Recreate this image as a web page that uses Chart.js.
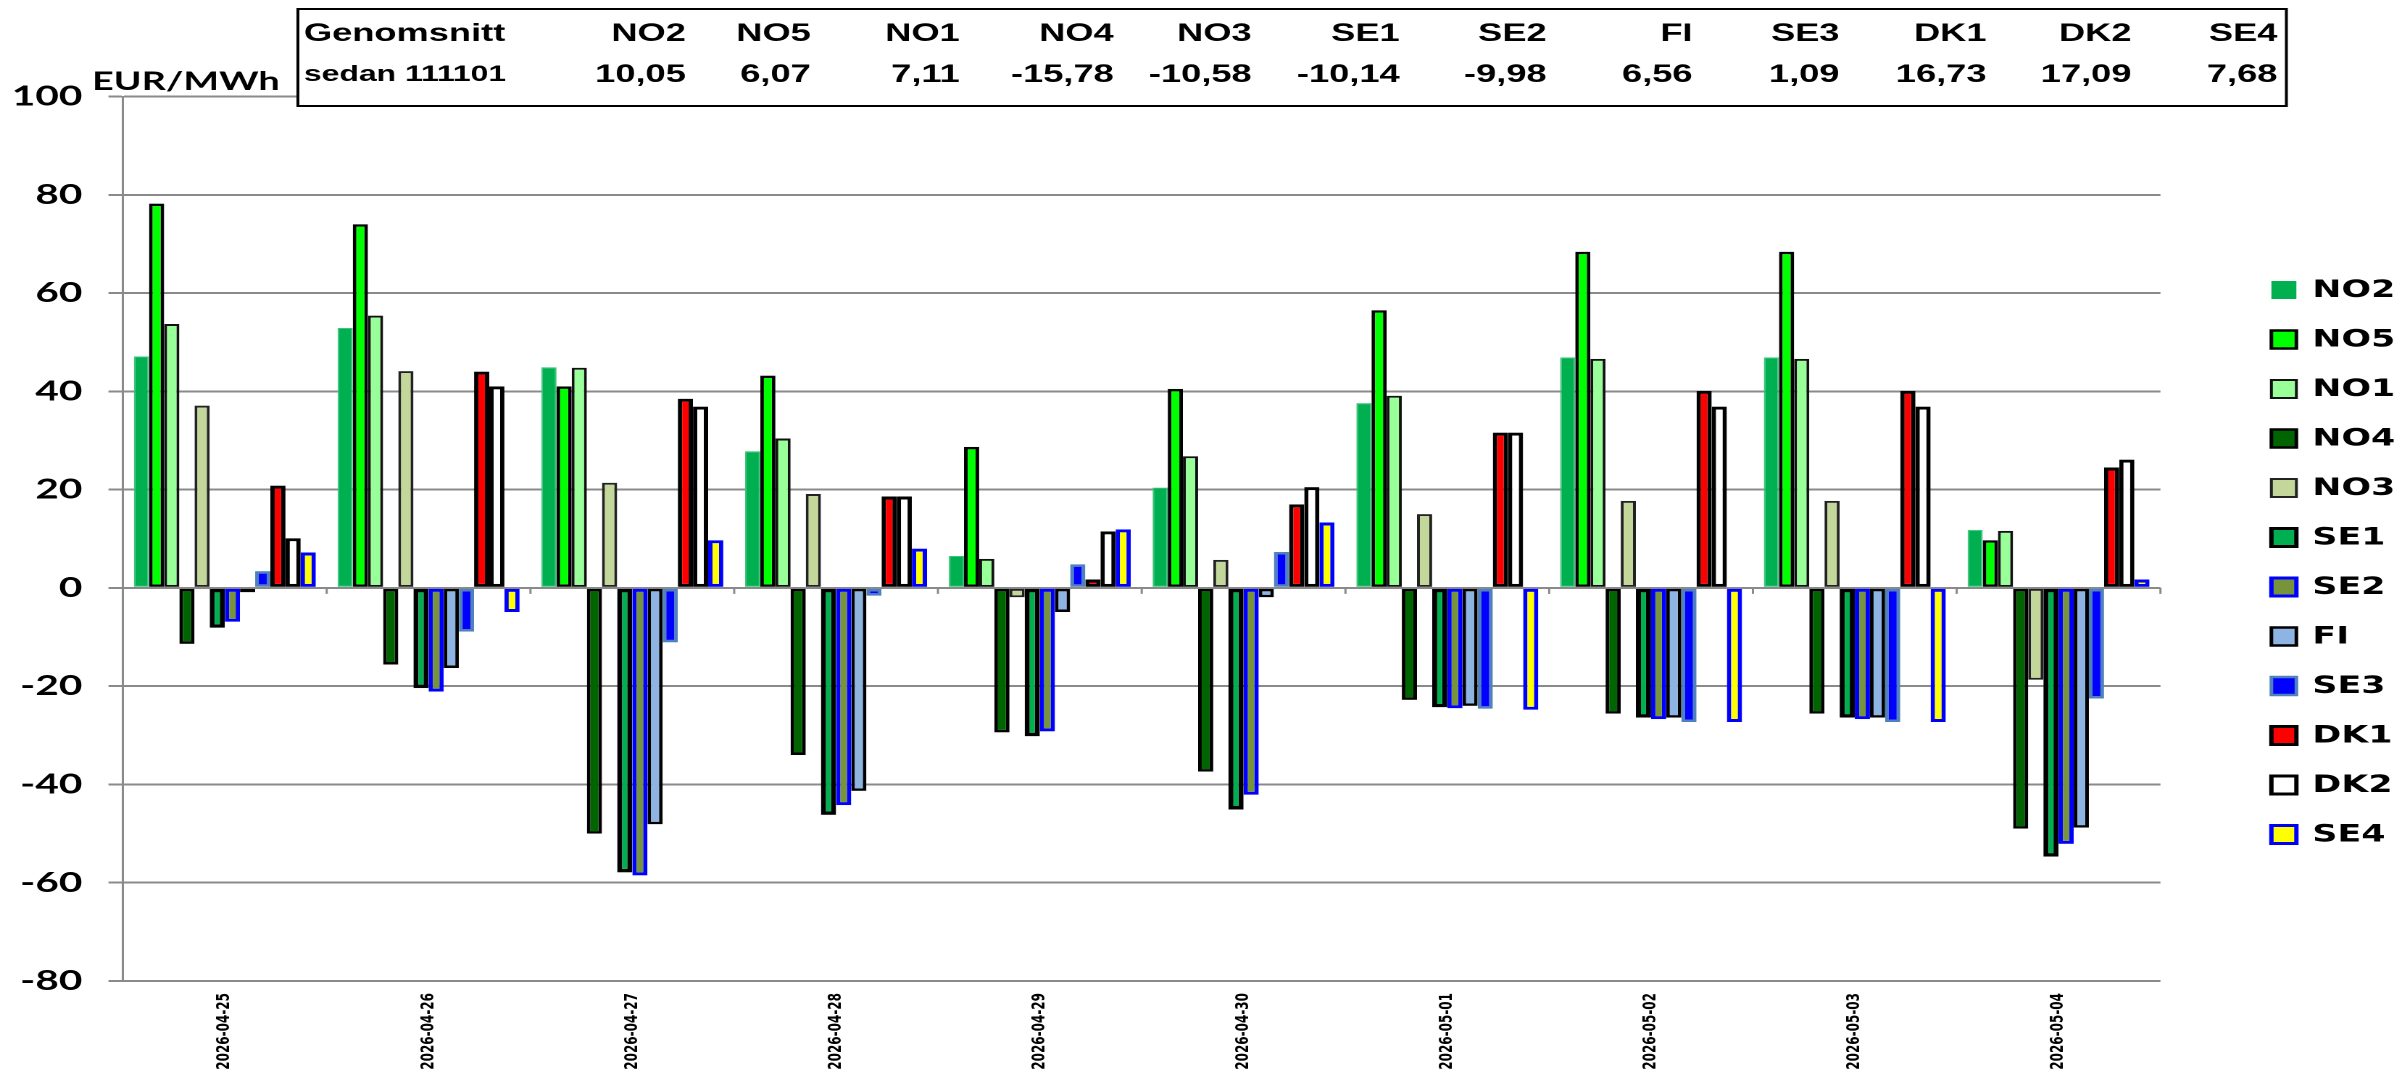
<!DOCTYPE html>
<html>
<head>
<meta charset="utf-8">
<script src="https://cdn.jsdelivr.net/npm/chart.js@4.4.1/dist/chart.umd.min.js"></script>
<style>
  html, body { margin: 0; padding: 0; background: #fff; }
</style>
</head>
<body>
<canvas id="priceChart"></canvas>
<script>
// Kategorier (datum)
const dates = ['2026-04-25', '2026-04-26', '2026-04-27', '2026-04-28', '2026-04-29',
               '2026-04-30', '2026-05-01', '2026-05-02', '2026-05-03', '2026-05-04'];

// Elområden
const zones = ['NO2', 'NO5', 'NO1', 'NO4', 'NO3', 'SE1', 'SE2', 'FI', 'SE3', 'DK1', 'DK2', 'SE4'];

// Värden EUR/MWh per område
const no2 = [47.1, 52.9, 44.9, 27.8, 6.5, 20.4, 37.6, 46.9, 46.9, 11.8];
const no5 = [78.2, 74.0, 41.0, 43.2, 28.7, 40.5, 56.5, 68.4, 68.4, 9.7];
const no1 = [53.7, 55.4, 44.8, 30.4, 5.9, 26.8, 39.1, 46.6, 46.6, 11.6];
const no4 = [-11.4, -15.6, -50.0, -34.0, -29.4, -37.4, -22.8, -25.6, -25.6, -49.0];
const no3 = [37.1, 44.1, 21.4, 19.1, -1.9, 5.7, 15.0, 17.7, 17.7, -18.7];
const se1 = [-8.1, -20.4, -57.9, -46.2, -30.2, -45.1, -24.3, -26.4, -26.4, -54.7];
const se2 = [-6.9, -21.1, -58.5, -44.2, -29.2, -42.1, -24.5, -26.7, -26.7, -52.1];
const fi  = [-0.9, -16.3, -48.1, -41.3, -4.9, -1.9, -24.0, -26.4, -26.4, -48.8];
const se3 = [3.4, -8.9, -11.1, -1.6, 4.8, 7.3, -24.6, -27.3, -27.3, -22.5];
const dk1 = [20.8, 44.0, 38.5, 18.6, 1.7, 17.0, 31.6, 40.1, 40.1, 24.5];
const dk2 = [10.1, 41.0, 36.9, 18.6, 11.5, 20.5, 31.6, 36.9, 36.9, 26.1];
const se4 = [7.2, -4.9, 9.7, 8.0, 11.9, 13.3, -24.8, -27.3, -27.3, 1.7];

// Genomsnitt sedan 111101
const avgTitle = ['Genomsnitt', 'sedan 111101'];
const avgValues = ['10,05', '6,07', '7,11', '-15,78', '-10,58', '-10,14', '-9,98', '6,56', '1,09', '16,73', '17,09', '7,68'];

// Y-axel
const yMin = -80, yMax = 100, yStep = 20;
const unitLabel = 'EUR/MWh';

const seriesValues = [no2, no5, no1, no4, no3, se1, se2, fi, se3, dk1, dk2, se4];

// Utseende
const fills   = ['#00b050', '#00ff00', '#99ff99', '#006400', '#c4d79b', '#00b050',
                 '#77933c', '#8db4e2', '#0000ff', '#ff0000', '#ffffff', '#ffff00'];
const borders = ['#3cc47c', '#000000', '#111111', '#000000', '#222222', '#000000',
                 '#0000ff', '#000000', '#4f81bd', '#000000', '#000000', '#0000ff'];
const borderWidths = [1, 2.5, 2, 2.5, 2, 3.5, 3, 2.5, 2.5, 3, 3, 3];

// Layout (bilden är utdragen i bredd)
const STRETCH = 1.45;
const W = Math.round(2402 / STRETCH), H = 1075;
const PLOT_LEFT = 123 / STRETCH, PLOT_RIGHT = 2161 / STRETCH;
const PLOT_TOP = 96.5, PLOT_BOTTOM = 981;

const canvas = document.getElementById('priceChart');
canvas.width = W;
canvas.height = H;
canvas.style.width = '2402px';
canvas.style.height = '1075px';

const overlay = {
    id: 'overlay',
    beforeDatasetsDraw(chart) {
        // små streck på nollinjen mellan kategorierna
        const xs = chart.scales.x, ys = chart.scales.y;
        const ctx = chart.ctx;
        const y0 = ys.getPixelForValue(0);
        const step = xs.width / dates.length;
        ctx.save();
        ctx.strokeStyle = '#8a8a8a';
        ctx.lineWidth = 1.5;
        for (let i = 1; i <= dates.length; i++) {
            const x = xs.left + i * step;
            ctx.beginPath();
            ctx.moveTo(x, y0);
            ctx.lineTo(x, y0 + 6);
            ctx.stroke();
        }
        ctx.restore();
    },
    afterDraw(chart) {
        const ctx = chart.ctx;
        ctx.save();

        // Enhet
        ctx.fillStyle = '#000';
        ctx.font = 'bold 26px Lato';
        ctx.textAlign = 'left';
        ctx.textBaseline = 'alphabetic';
        ctx.fillText(unitLabel, 92 / STRETCH, 90);

        // Tabell med genomsnitt
        const boxL = 298 / STRETCH, boxR = 2287 / STRETCH, boxT = 9, boxB = 106;
        ctx.fillStyle = '#fff';
        ctx.fillRect(boxL, boxT, boxR - boxL, boxB - boxT);
        ctx.strokeStyle = '#000';
        ctx.lineWidth = 2;
        ctx.strokeRect(boxL, boxT, boxR - boxL, boxB - boxT);

        const colRight = [686, 811, 960, 1114, 1252, 1400, 1547, 1693, 1840, 1987, 2132, 2278];
        const row1 = 34, row2 = 75;
        ctx.fillStyle = '#000';
        ctx.textBaseline = 'middle';
        ctx.textAlign = 'left';
        ctx.font = 'bold 25px "Liberation Sans"';
        ctx.fillText(avgTitle[0], 304 / STRETCH, row1);
        ctx.font = 'bold 22px "Liberation Sans"';
        ctx.fillText(avgTitle[1], 304 / STRETCH, row2);
        ctx.textAlign = 'right';
        ctx.font = 'bold 25px "Liberation Sans"';
        zones.forEach((z, i) => {
            ctx.fillText(z, colRight[i] / STRETCH, row1);
            ctx.fillText(avgValues[i], colRight[i] / STRETCH, row2);
        });

        // Förklaring
        const legX = 2272 / STRETCH, legW = 25 / STRETCH, legH = 18;
        const textX = 2313 / STRETCH;
        const firstY = 290, stepY = 49.5;
        ctx.font = 'bold 24px "DejaVu Sans"';
        ctx.textAlign = 'left';
        chart.data.datasets.forEach((ds, i) => {
            const y = firstY + i * stepY;
            ctx.fillStyle = ds.backgroundColor;
            ctx.fillRect(legX, y - legH / 2, legW, legH);
            if (i > 0) {
                ctx.strokeStyle = ds.borderColor;
                ctx.lineWidth = Math.min(ds.borderWidth, 3);
                ctx.strokeRect(legX, y - legH / 2, legW, legH);
            }
            ctx.fillStyle = '#000';
            ctx.fillText(ds.label, textX, y + 1);
        });
        ctx.restore();
    }
};

new Chart(canvas, {
    type: 'bar',
    data: {
        labels: dates,
        datasets: zones.map((z, i) => ({
            label: z,
            data: seriesValues[i],
            backgroundColor: fills[i],
            borderColor: borders[i],
            borderWidth: borderWidths[i],
            borderSkipped: false
        }))
    },
    options: {
        responsive: false,
        animation: false,
        devicePixelRatio: 2,
        layout: { padding: { left: 0, right: W - PLOT_RIGHT, top: PLOT_TOP, bottom: 0 } },
        datasets: { bar: { categoryPercentage: 0.893, barPercentage: 1 } },
        plugins: { legend: { display: false }, tooltip: { enabled: false } },
        scales: {
            x: {
                grid: { display: false, drawTicks: false },
                border: { display: false },
                ticks: {
                    autoSkip: false, maxRotation: 90, minRotation: 90, padding: 12,
                    color: '#000', font: { family: 'DejaVu Sans', weight: 'bold', size: 12 }
                },
                afterFit: s => { s.height = H - PLOT_BOTTOM; }
            },
            y: {
                min: yMin, max: yMax,
                ticks: {
                    stepSize: yStep, padding: 18, color: '#000',
                    font: { family: 'Lato', weight: 'bold', size: 28 }
                },
                grid: { color: '#8a8a8a', lineWidth: 2, tickLength: 10 },
                border: { display: true, color: '#8a8a8a', width: 1.5 },
                afterFit: s => { s.width = PLOT_LEFT; }
            }
        }
    },
    plugins: [overlay]
});
</script>
</body>
</html>
